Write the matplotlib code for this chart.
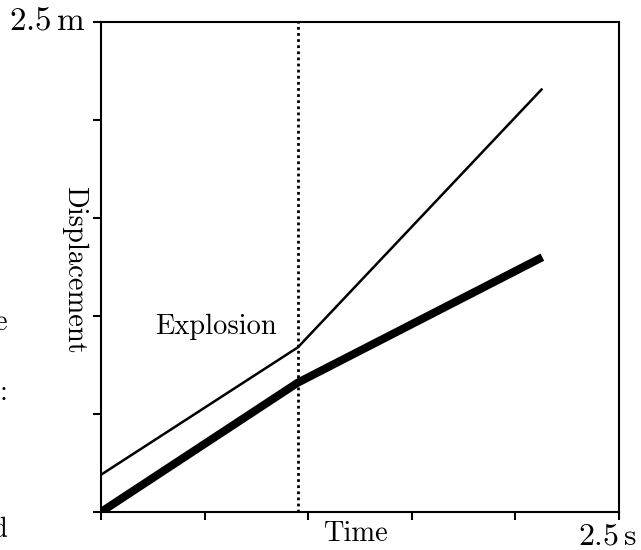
import matplotlib
matplotlib.use("Agg")
import matplotlib.pyplot as plt

plt.rcParams['mathtext.fontset'] = 'cm'

# time (s) and displacement (m) at start, explosion and end
t_explosion = 0.95
times = [0.0, 0.95, 2.13]
heavy_piece = [0.0, 0.66, 1.30]
light_piece = [0.19, 0.84, 2.16]

x_max = 2.5
y_max = 2.5
tick_step = 0.5

FONT = 'cmr10'
SIZE = 20.5

fig = plt.figure(figsize=(6.41, 5.5), dpi=100)
ax = fig.add_axes([101 / 641, 1 - 512 / 550, 518 / 641, 490 / 550])

ax.plot(times, light_piece, color='black', lw=1.8, solid_capstyle='butt')
ax.plot(times, heavy_piece, color='black', lw=5.8, solid_capstyle='butt')
ax.axvline(t_explosion, color='black', lw=2, linestyle=(0, (1, 1.2)))

ax.set_xlim(0, x_max)
ax.set_ylim(0, y_max)
ticks = [i * tick_step for i in range(int(x_max / tick_step) + 1)]
ax.set_xticks(ticks)
ax.set_yticks(ticks)
ax.set_xticklabels([])
ax.set_yticklabels([])
ax.tick_params(direction='out', length=5.8, width=1.5, color='black')
ax.tick_params(axis='y', which='both', right=False)
ax.tick_params(axis='x', which='both', top=False)
for side in ax.spines.values():
    side.set_linewidth(1.5)

ax.text(0.85, 0.945, 'Explosion', ha='right', va='center',
        family=FONT, fontsize=SIZE)
ax.text(1.226, -0.11, 'Time', ha='center', va='center',
        family=FONT, fontsize=SIZE, clip_on=False)
ax.text(-0.13, 1.235, 'Displacement', ha='center', va='center', rotation=270,
        family=FONT, fontsize=SIZE, clip_on=False)

fig.text(86 / 641, 1 - 20 / 550, r'$2.5\,\mathrm{m}$', ha='right', va='center',
         fontsize=24)
fig.text(637 / 641, 1 - 536 / 550, r'$2.5\,\mathrm{s}$', ha='right', va='center',
         fontsize=23)

# ends of words from text beside the figure
fig.text(7 / 641, 1 - 323 / 550, 'e', ha='right', va='center',
         family=FONT, fontsize=SIZE)
fig.text(7 / 641, 1 - 393 / 550, ':', ha='right', va='center',
         family=FONT, fontsize=SIZE)
fig.text(8 / 641, 1 - 530 / 550, 'd', ha='right', va='center',
         family=FONT, fontsize=SIZE)

fig.savefig('out.png', dpi=100)
